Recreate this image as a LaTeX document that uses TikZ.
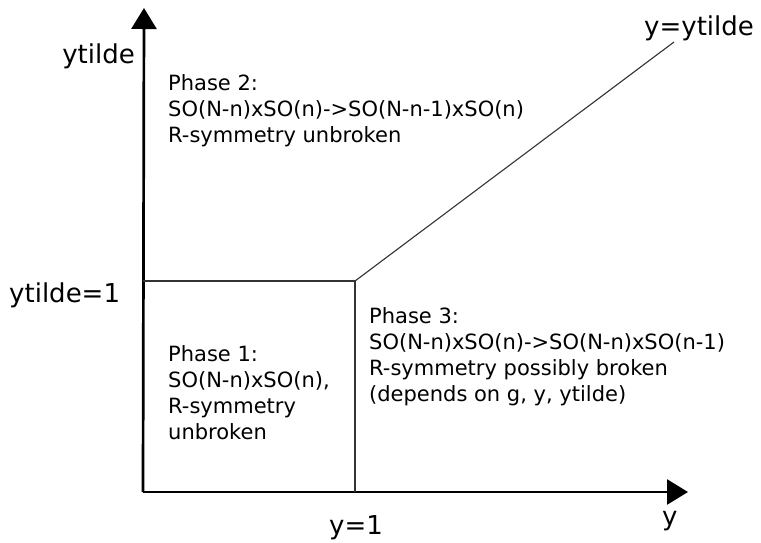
\documentclass[tikz,border=0pt]{standalone}
\usepackage{fontspec}
\setmainfont{DejaVu Sans}
\usetikzlibrary{arrows.meta}

\tikzset{
  axis/.style={line width=2.7pt, -{Triangle[length=21pt, width=25pt]}},
  border/.style={line width=1.1pt, black!80},
  phasetext/.style={anchor=north west, inner sep=0pt, align=left, font=\fontsize{21}{26}\selectfont},
  axlabel/.style={inner sep=0pt, font=\fontsize{26}{30}\selectfont}
}

\begin{document}
\begin{tikzpicture}[x=1pt, y=-1pt]
  \useasboundingbox (0,0) rectangle (761,542);
  % ===== Achsen =====
  \coordinate (O) at (143,492);
  \coordinate (yend) at (688,492);
  \coordinate (ytend) at (144,8);
  \draw[axis] (O)--(yend);
  \draw[axis] (O)--(ytend);
  % ===== Phasengrenzen =====
  \coordinate (C) at (355,281);
  \coordinate (Cy) at (355,492);
  \coordinate (Ct) at (143,281);
  \coordinate (D) at (674,42);
  \draw[border] (Ct)--(C)--(Cy);
  \draw[border] (C)--(D);
  % ===== Beschriftungen =====
  \node[axlabel, anchor=base east] (lyt) at (135,63) {ytilde};
  \node[axlabel, anchor=base west] (lyt1) at (9,302) {ytilde=1};
  \node[axlabel, anchor=base west] (ly1) at (329,534) {y=1};
  \node[axlabel, anchor=base west] (ly) at (662,525) {y};
  \node[axlabel, anchor=base west] (ldiag) at (644,35) {y=ytilde};
  \node[phasetext] (ph2) at (168,74) {Phase 2:\\SO(N-n)xSO(n)->SO(N-n-1)xSO(n)\\R-symmetry unbroken};
  \node[phasetext] (ph1) at (168,345) {Phase 1:\\SO(N-n)xSO(n),\\R-symmetry\\unbroken};
  \node[phasetext] (ph3) at (369,307) {Phase 3:\\SO(N-n)xSO(n)->SO(N-n)xSO(n-1)\\R-symmetry possibly broken\\(depends on g, y, ytilde)};
\end{tikzpicture}
\end{document}
